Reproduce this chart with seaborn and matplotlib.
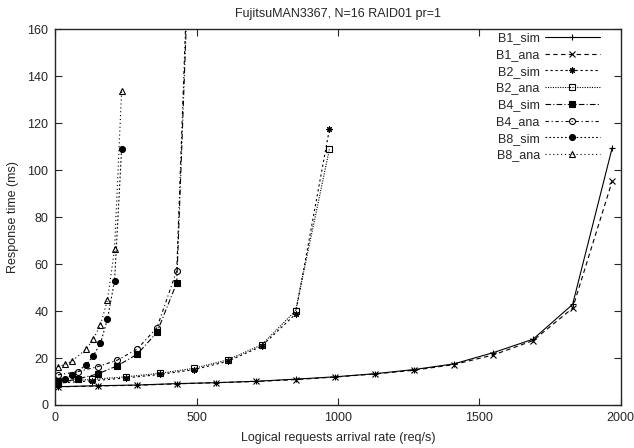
import numpy as np
import matplotlib
matplotlib.use('Agg')
import matplotlib.pyplot as plt
import pandas as pd
import seaborn as sb

b1_x = [10, 150, 290, 430, 570, 710, 850, 990, 1130, 1270, 1410, 1550, 1690, 1830, 1970]
b1_sim = [7.8, 8.2, 8.5, 9.1, 9.5, 10.1, 11.0, 12.0, 13.3, 15.1, 17.5, 22.3, 28.0, 42.8, 109.5]
b1_ana = [7.7, 8.1, 8.4, 9.0, 9.5, 10.0, 10.8, 11.9, 13.2, 14.8, 17.2, 21.3, 27.4, 41.2, 95.3]

b2_x = [10, 130, 250, 370, 490, 610, 730, 850, 970]
b2_sim = [9.3, 10.3, 11.5, 13.0, 15.0, 18.6, 25.0, 38.7, 117.5]
b2_ana = [10.0, 10.9, 12.0, 13.5, 15.6, 19.2, 25.6, 40.1, 109.0]

b4_x = [10, 80, 150, 220, 290, 360, 430, 500]
b4_sim = [9.5, 11.1, 13.2, 16.7, 21.6, 30.9, 52.0, 280.0]
b4_ana = [12.8, 14.2, 16.3, 19.1, 23.8, 32.9, 57.2, 290.0]

b8_x = [10, 35, 60, 110, 135, 160, 185, 210, 235]
b8_sim = [10.3, 11.1, 12.8, 17.0, 21.0, 26.2, 36.6, 52.8, 108.8]
b8_ana = [16.3, 17.3, 18.7, 23.8, 28.1, 34.0, 44.7, 66.3, 133.6]

series = [
    ('B1_sim', b1_x, b1_sim, '-', '+', 'k'),
    ('B1_ana', b1_x, b1_ana, (0, (4, 3)), 'x', 'k'),
    ('B2_sim', b2_x, b2_sim, (0, (2, 2.5)), (8, 2, 0), 'k'),
    ('B2_ana', b2_x, b2_ana, (0, (1, 1.2)), 's', 'none'),
    ('B4_sim', b4_x, b4_sim, (0, (5, 2, 1, 2)), 's', 'k'),
    ('B4_ana', b4_x, b4_ana, (0, (3, 2.5, 1, 2.5)), 'o', 'none'),
    ('B8_sim', b8_x, b8_sim, (0, (1.5, 2)), 'o', 'k'),
    ('B8_ana', b8_x, b8_ana, (0, (1, 2.5)), '^', 'none'),
]

sb.set_style('ticks')
plt.rcParams['font.family'] = ['Liberation Sans', 'DejaVu Sans']

fig = plt.figure(figsize=(6.34, 4.48), dpi=100)
ax = fig.add_axes([0.087, 0.096, 0.892, 0.839])

for name, xs, ys, ls, mk, fc in series:
    df = pd.DataFrame({'x': xs, 'y': ys})
    sb.lineplot(data=df, x='x', y='y', ax=ax, color='k', linestyle=ls, lw=0.8,
                marker=mk, markersize=4.3, mfc=fc, mec='k', mew=0.8, label=name)

ax.set_xlim(0, 2000)
ax.set_ylim(0, 160)
ax.set_xticks(np.arange(0, 2001, 500))
ax.set_yticks(np.arange(0, 161, 20))
ax.tick_params(direction='in', top=True, right=True, length=5, width=0.8, labelsize=9, pad=5)
for s in ax.spines.values():
    s.set_linewidth(1.0)
    s.set_visible(True)

ax.set_title('FujitsuMAN3367, N=16 RAID01 pr=1', fontsize=9, pad=9)
ax.set_xlabel('Logical requests arrival rate (req/s)', fontsize=9, labelpad=6)
ax.set_ylabel('Response time (ms)', fontsize=9, labelpad=6)

leg = ax.legend(loc='upper right', bbox_to_anchor=(0.963, 0.992), frameon=False,
                markerfirst=False, fontsize=9, handlelength=4.4, labelspacing=0.38,
                borderaxespad=0, borderpad=0, handletextpad=0.4)

fig.savefig('out.png', dpi=100)
plt.close()
